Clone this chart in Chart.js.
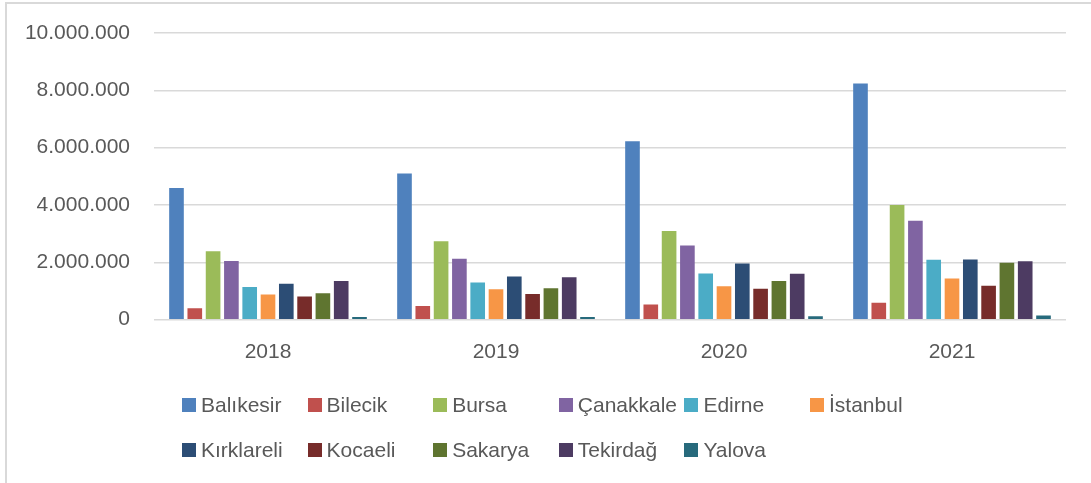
<!DOCTYPE html>
<html>
<head>
<meta charset="utf-8">
<script src="https://cdn.jsdelivr.net/npm/chart.js@4"></script>
<style>
  html, body { margin: 0; padding: 0; background: #fff; }
  body { width: 1091px; height: 483px; position: relative; overflow: hidden; font-family: "Liberation Sans", Arial, sans-serif; }
  #frame { position: absolute; left: 5px; top: 2px; width: 1200px; height: 600px; border-left: 2px solid #d9d9d9; border-top: 2px solid #d9d9d9; }
  #chart-wrap { position: absolute; left: 0; top: 0; width: 1091px; height: 380px; }
  #legend { position: absolute; left: 0; top: 0; width: 1091px; height: 483px; pointer-events: none; }
  .item { position: absolute; height: 26px; display: flex; align-items: center; color: #595959; font-size: 21px; white-space: nowrap; }
  .item span.box { display: inline-block; width: 14px; height: 14px; margin-right: 5px; }
</style>
</head>
<body>
<div id="frame"></div>
<div id="chart-wrap"><canvas id="chart"></canvas></div>
<div id="legend"></div>
<script>
const years = ["2018", "2019", "2020", "2021"];
const provinces = ["Balıkesir", "Bilecik", "Bursa", "Çanakkale", "Edirne", "İstanbul",
  "Kırklareli", "Kocaeli", "Sakarya", "Tekirdağ", "Yalova"];
const colors = ["#4F81BD", "#C0504D", "#9BBB59", "#8064A2", "#4BACC6", "#F79646",
  "#2C4D75", "#772C2A", "#5F7530", "#4D3B62", "#276A7C"];

const balikesir = [4590000, 5100000, 6220000, 8240000];
const bilecik = [400000, 480000, 530000, 590000];
const bursa = [2390000, 2740000, 3090000, 4000000];
const canakkale = [2050000, 2130000, 2590000, 3450000];
const edirne = [1140000, 1300000, 1610000, 2090000];
const istanbul = [880000, 1060000, 1170000, 1440000];
const kirklareli = [1250000, 1510000, 1960000, 2100000];
const kocaeli = [810000, 900000, 1080000, 1180000];
const sakarya = [920000, 1100000, 1350000, 1990000];
const tekirdag = [1350000, 1480000, 1600000, 2040000];
const yalova = [90000, 90000, 120000, 150000];

const yMin = 0;
const yMax = 10000000;
const yStep = 2000000;

const seriesValues = [balikesir, bilecik, bursa, canakkale, edirne, istanbul,
  kirklareli, kocaeli, sakarya, tekirdag, yalova];

function formatNumber(v) {
  return String(v).replace(/\B(?=(\d{3})+(?!\d))/g, ".");
}

const datasets = provinces.map((name, i) => ({
  label: name,
  data: seriesValues[i],
  backgroundColor: colors[i],
  borderWidth: 0,
  categoryPercentage: 0.883,
  barPercentage: 0.8,
}));

const textColor = "#595959";
const tickFont = { family: "'Liberation Sans', Arial, sans-serif", size: 21 };

new Chart(document.getElementById("chart"), {
  type: "bar",
  data: { labels: years, datasets: datasets },
  options: {
    responsive: true,
    maintainAspectRatio: false,
    animation: false,
    layout: { padding: { top: 33, right: 25, bottom: 0, left: 0 } },
    plugins: {
      legend: { display: false },
      tooltip: { enabled: false },
    },
    scales: {
      x: {
        grid: { display: false, drawTicks: false },
        border: { display: false },
        ticks: { color: textColor, font: tickFont, padding: 20 },
        afterFit: (scale) => { scale.height = 60.3; },
      },
      y: {
        min: yMin,
        max: yMax,
        grid: { color: "#d9d9d9", lineWidth: 1.5, drawTicks: false },
        border: { display: false },
        ticks: {
          stepSize: yStep,
          color: textColor,
          font: tickFont,
          padding: 24,
          callback: (v) => formatNumber(v),
        },
        afterFit: (scale) => {
          scale.width = 154;
          // let layout.padding decide where the plot starts
          scale.paddingTop = 0;
          scale.paddingBottom = 0;
        },
      },
    },
  },
});

// legend laid out in fixed columns like the original
const legendEl = document.getElementById("legend");
provinces.forEach((name, i) => {
  const col = i % 6;
  const row = Math.floor(i / 6);
  const item = document.createElement("div");
  item.className = "item";
  item.style.left = (182 + col * 125.6) + "px";
  item.style.top = (405 + row * 45 - 13) + "px";
  const box = document.createElement("span");
  box.className = "box";
  box.style.background = colors[i];
  item.appendChild(box);
  item.appendChild(document.createTextNode(name));
  legendEl.appendChild(item);
});
</script>
</body>
</html>
